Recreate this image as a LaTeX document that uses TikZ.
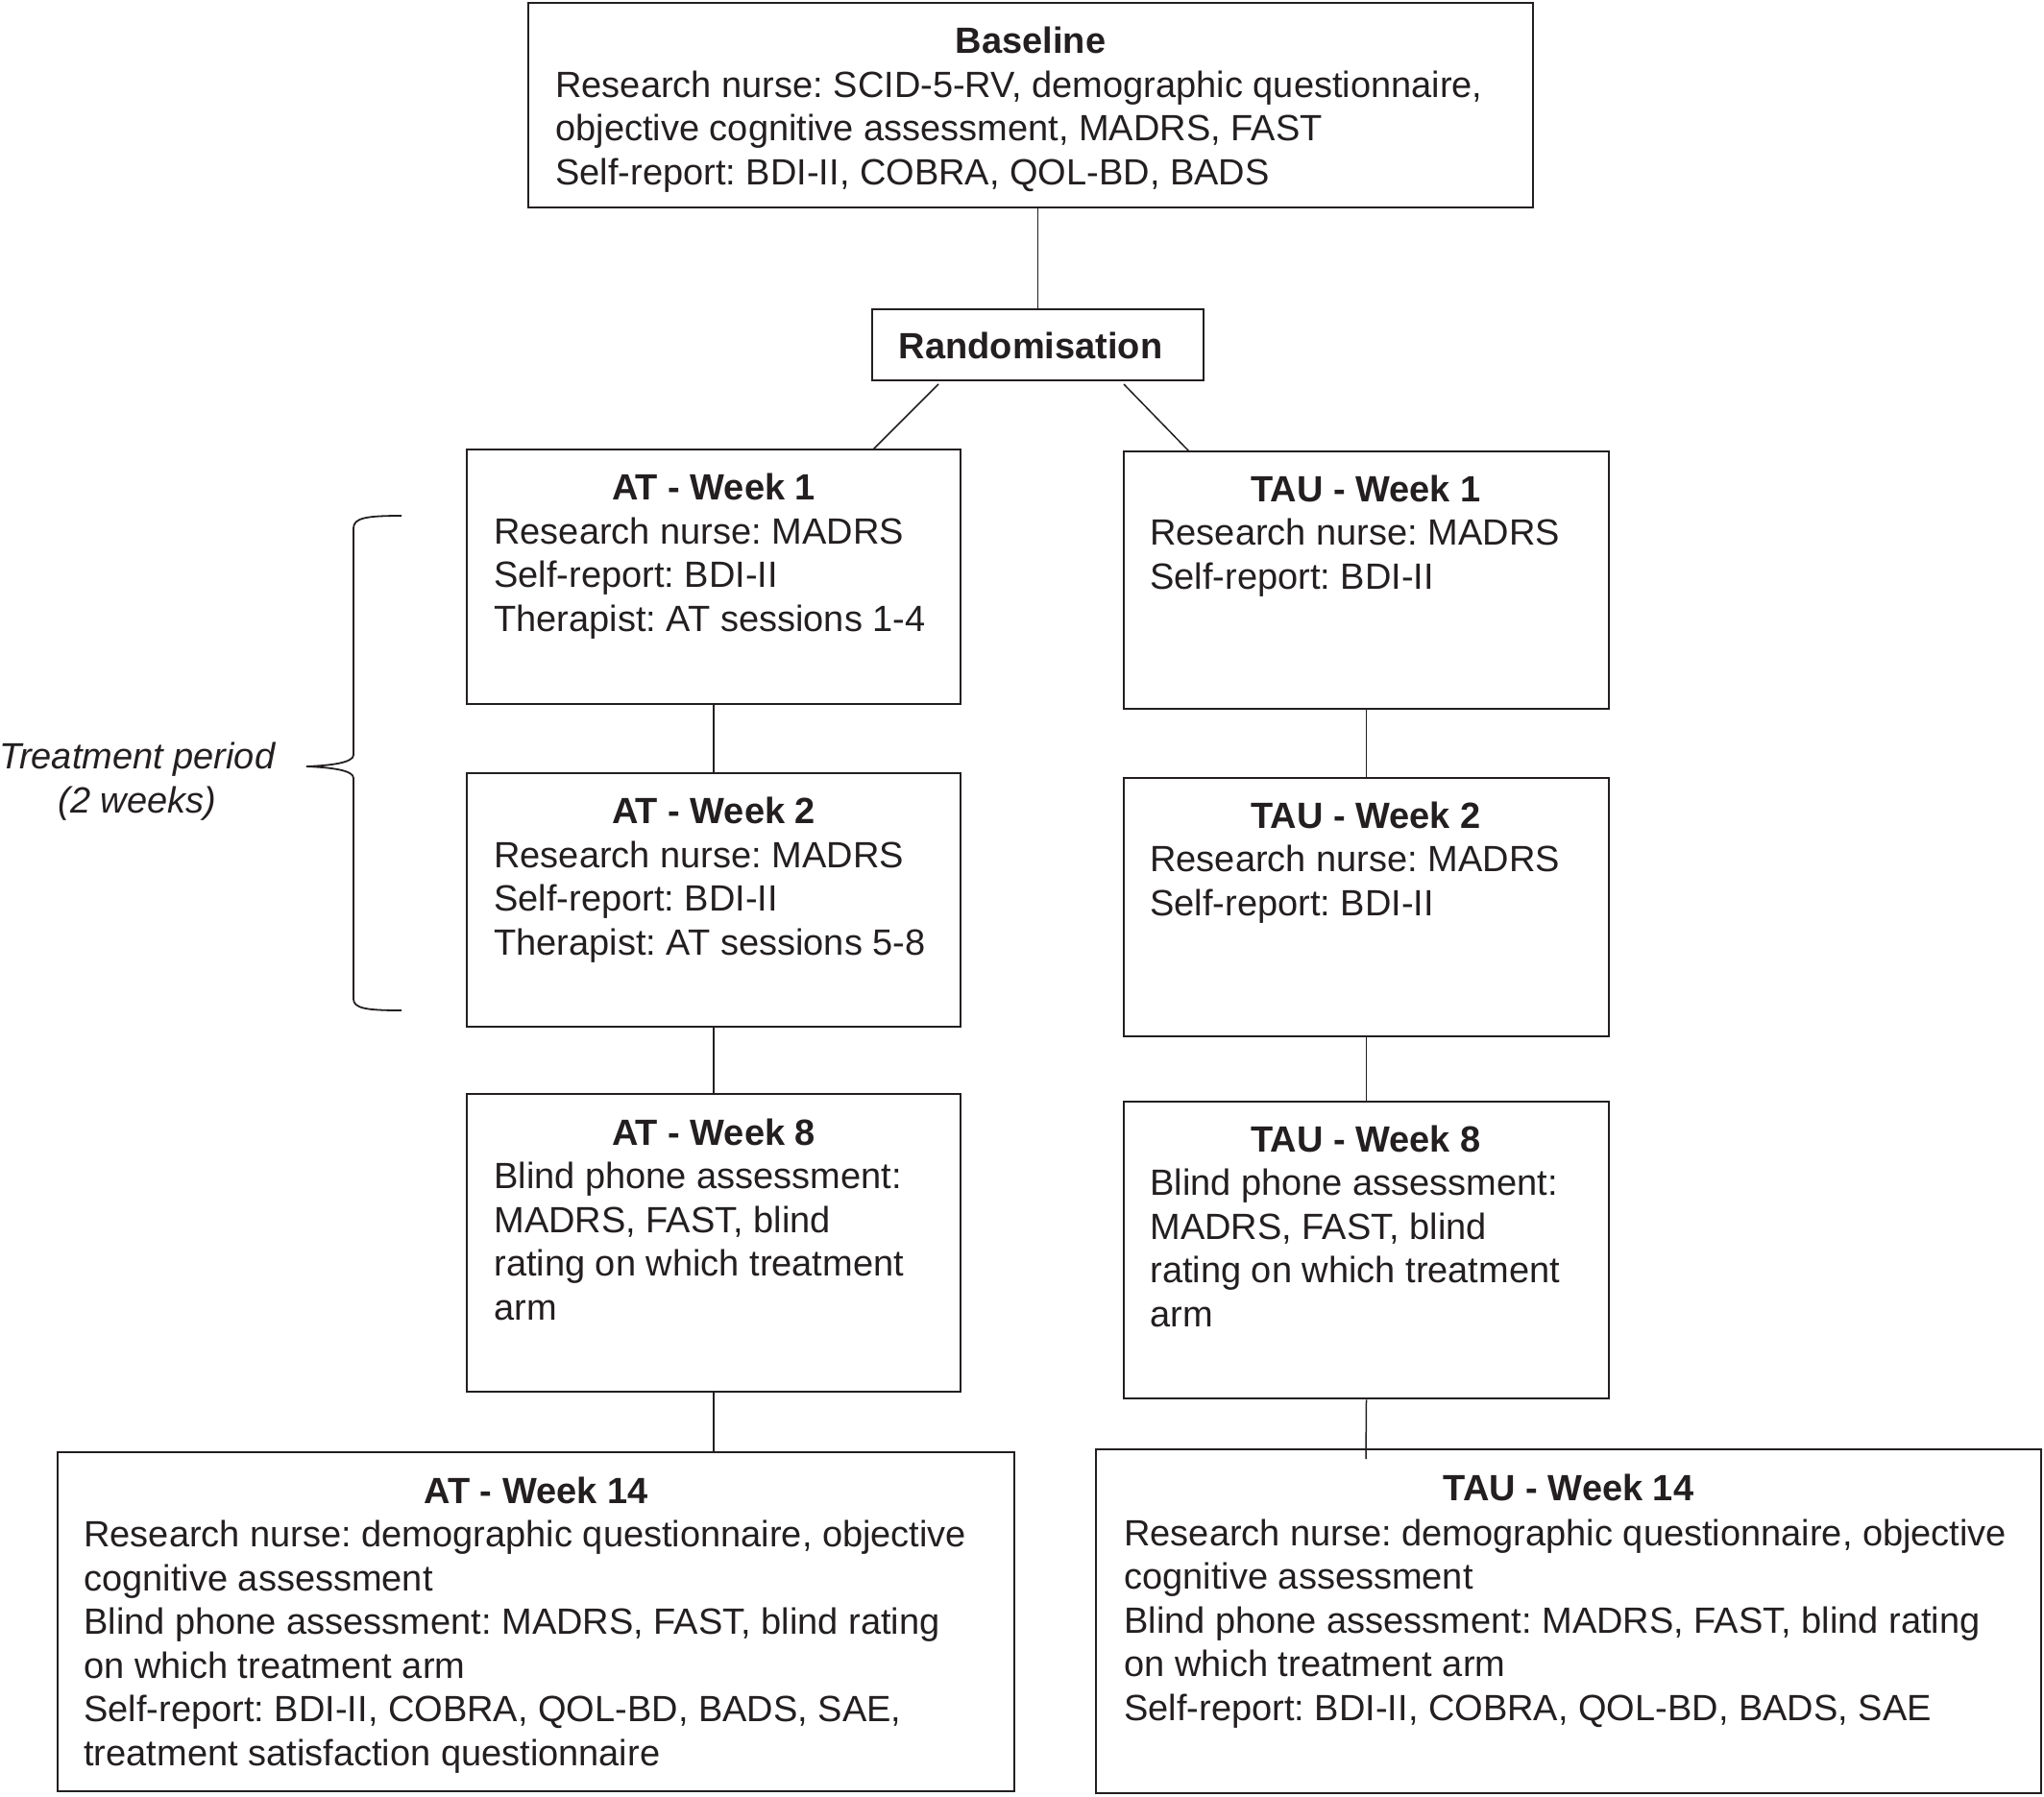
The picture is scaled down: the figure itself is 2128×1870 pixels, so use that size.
\documentclass[tikz,border=0pt]{standalone}
\usepackage{fontspec}
\setmainfont{Liberation Sans}
\usetikzlibrary{fit}
\definecolor{ink}{RGB}{35,31,32}
\begin{document}
\frenchspacing
\fontsize{19}{22.75}\selectfont
\begin{tikzpicture}[x=0.5pt,y=-0.5pt,
  box/.style={draw=ink, line width=1.3pt, inner sep=0pt},
  ttl/.style={font=\bfseries, text=ink, inner sep=0pt, anchor=base},
  bdy/.style={align=left, text=ink, inner sep=0pt, anchor=base west},
  conn/.style={draw=ink, line width=0.75pt}]
\useasboundingbox (0,0) rectangle (2128,1870);

% Baseline
\node[box, fit={(550,3)(1596,216)}] (base) {};
\node[ttl] (baset) at (1073,55) {Baseline};
\node[bdy] (baseb) at (578,192) {Research nurse: SCID-5-RV, demographic questionnaire,\\objective cognitive assessment, MADRS, FAST\\Self-report: BDI-II, COBRA, QOL-BD, BADS};

% Randomisation
\node[box, fit={(908,322)(1253,396)}] (rand) {};
\node[ttl] (randt) at (1073,373) {Randomisation};

% AT arm
\node[box, fit={(486,468)(1000,733)}] (at1) {};
\node[ttl] (at1t) at (743,520) {AT - Week 1};
\node[bdy] (at1b) at (514,657) {Research nurse: MADRS\\Self-report: BDI-II\\Therapist: AT sessions 1-4};

\node[box, fit={(486,805)(1000,1069)}] (at2) {};
\node[ttl] (at2t) at (743,857) {AT - Week 2};
\node[bdy] (at2b) at (514,994) {Research nurse: MADRS\\Self-report: BDI-II\\Therapist: AT sessions 5-8};

\node[box, fit={(486,1139)(1000,1449)}] (at8) {};
\node[ttl] (at8t) at (743,1192) {AT - Week 8};
\node[bdy] (at8b) at (514,1374) {Blind phone assessment:\\MADRS, FAST, blind\\rating on which treatment\\arm};

\node[box, fit={(60,1512)(1056,1865)}] (at14) {};
\node[ttl] (at14t) at (558,1565) {AT - Week 14};
\node[bdy] (at14b) at (87,1838) {Research nurse: demographic questionnaire, objective\\cognitive assessment\\Blind phone assessment: MADRS, FAST, blind rating\\on which treatment arm\\Self-report: BDI-II, COBRA, QOL-BD, BADS, SAE,\\treatment satisfaction questionnaire};

% TAU arm
\node[box, fit={(1170,470)(1675,738)}] (tau1) {};
\node[ttl] (tau1t) at (1422,522) {TAU - Week 1};
\node[bdy] (tau1b) at (1197,613) {Research nurse: MADRS\\Self-report: BDI-II};

\node[box, fit={(1170,810)(1675,1079)}] (tau2) {};
\node[ttl] (tau2t) at (1422,862) {TAU - Week 2};
\node[bdy] (tau2b) at (1197,953) {Research nurse: MADRS\\Self-report: BDI-II};

\node[box, fit={(1170,1147)(1675,1456)}] (tau8) {};
\node[ttl] (tau8t) at (1422,1199) {TAU - Week 8};
\node[bdy] (tau8b) at (1197,1381) {Blind phone assessment:\\MADRS, FAST, blind\\rating on which treatment\\arm};

\node[box, fit={(1141,1509)(2125,1867)}] (tau14) {};
\node[ttl] (tau14t) at (1633,1562) {TAU - Week 14};
\node[bdy] (tau14b) at (1170,1791) {Research nurse: demographic questionnaire, objective\\cognitive assessment\\Blind phone assessment: MADRS, FAST, blind rating\\on which treatment arm\\Self-report: BDI-II, COBRA, QOL-BD, BADS, SAE};

% Connectors
\draw[conn] (base.south -| rand.north) -- (rand.north);
\coordinate (ls) at (977,400);
\coordinate (le) at (909,468);
\coordinate (rs) at (1170,400);
\coordinate (re) at (1238,470);
\draw[conn] (ls) -- (le);
\draw[conn] (rs) -- (re);
\draw[conn] (at1.south) -- (at2.north);
\draw[conn] (at2.south) -- (at8.north);
\draw[conn] (at8.south) -- (at8.south |- at14.north);
\draw[conn] (tau1.south) -- (tau2.north);
\draw[conn] (tau2.south) -- (tau8.north);
\coordinate (t14in) at (1422,1519);
\draw[conn] (tau8.south) -- (t14in);

% Brace and label
\draw[ink, line width=0.9pt] (418,537) .. controls (382,537) and (368,539) .. (368,550)
  -- (368,786) .. controls (368,794) and (345,797) .. (319,798)
  .. controls (345,799) and (368,802) .. (368,810)
  -- (368,1040) .. controls (368,1050) and (382,1052) .. (418,1052);
\node[font=\itshape, text=ink, inner sep=0pt, align=center, anchor=base] (tp) at (143,846) {Treatment period\\(2 weeks)};
\end{tikzpicture}
\end{document}
